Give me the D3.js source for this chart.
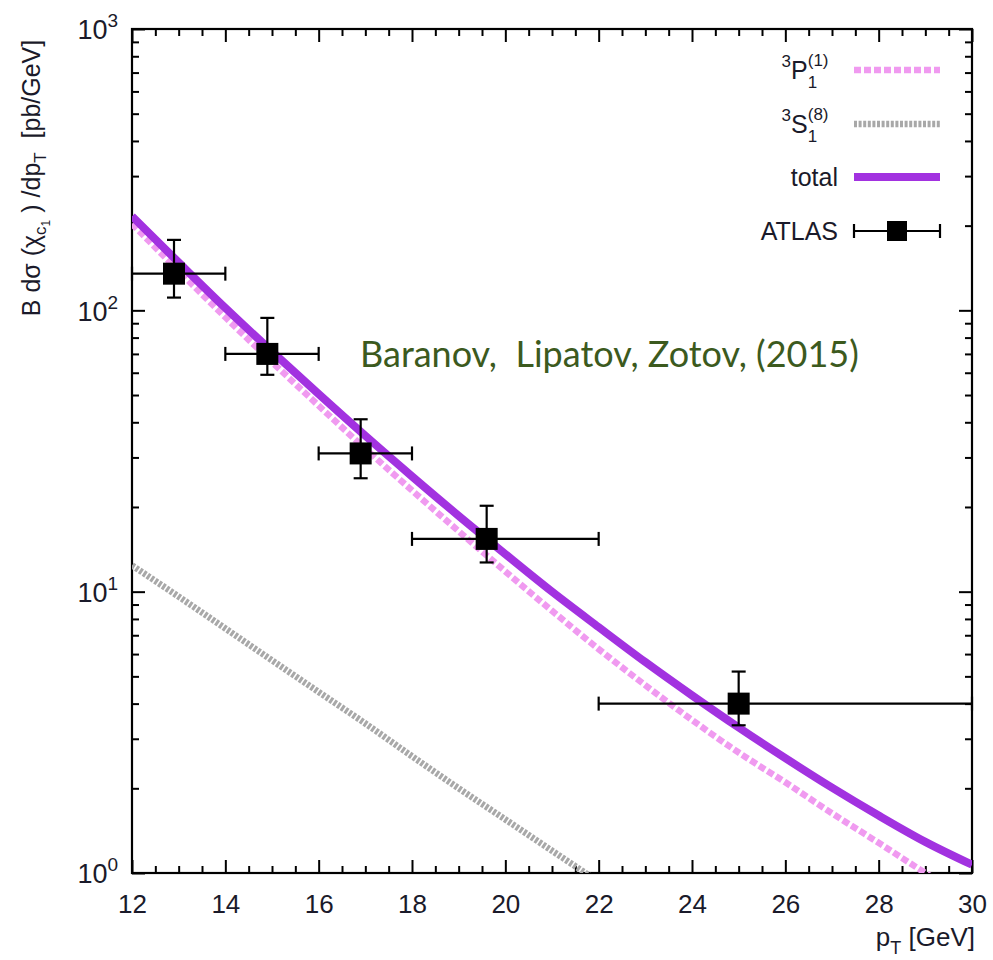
<!DOCTYPE html>
<html>
<head>
<meta charset="utf-8">
<script src="https://cdn.jsdelivr.net/npm/d3@7/dist/d3.min.js"></script>
<style>
  html, body { margin: 0; padding: 0; background: #fff; }
  svg { display: block; }
</style>
</head>
<body>
<svg id="chart" width="993" height="960"></svg>
<script>
// Transverse momentum grid for the theory curves [GeV]
const ptGrid = [12, 13, 14, 15, 16, 17, 18, 19, 20, 21, 22, 23, 24, 25, 26, 27, 28, 29, 30];
// Total prediction [pb/GeV]
const totalCurve = [216, 148, 102, 71.4, 50.4, 35.8, 25.7, 18.6, 13.6, 10.0, 7.48, 5.62, 4.28, 3.29, 2.56, 2.01, 1.60, 1.29, 1.07];
// Colour-singlet 3P1(1) contribution
const p1SingletCurve = [203, 138, 94.5, 65.5, 45.8, 32.2, 22.9, 16.4, 11.8, 8.55, 6.25, 4.65, 3.5, 2.68, 2.1, 1.63, 1.28, 1.0, 0.79];
// Colour-octet 3S1(8) contribution (pT grid truncated where it drops below the frame)
const s1OctetPt = [12, 13, 14, 15, 16, 17, 18, 19, 20, 21, 22, 23];
const s1OctetCurve = [12.4, 9.6, 7.4, 5.7, 4.4, 3.4, 2.6, 2.0, 1.55, 1.2, 0.93, 0.72];

// ATLAS measurement
const atlasPt = [12.9, 14.9, 16.9, 19.6, 25.0];
const atlasBinLo = [12, 14, 16, 18, 22];
const atlasBinHi = [14, 16, 18, 22, 30];
const atlasValue = [135, 70, 31, 15.4, 4.0];
const atlasUp = [178, 94, 41, 20.2, 5.2];
const atlasDown = [111, 59, 25.3, 12.7, 3.35];

// Axis ticks
const xMajorTicks = [12, 14, 16, 18, 20, 22, 24, 26, 28, 30];
const yMajorTicks = [1, 10, 100, 1000];

const svg = d3.select("#chart");
const frame = { left: 132, right: 972, top: 29, bottom: 873 };

const x = d3.scaleLinear().domain([12, 30]).range([frame.left, frame.right]);
const y = d3.scaleLog().domain([1, 1000]).range([frame.bottom, frame.top]);

const xMinor = d3.range(12, 30.01, 0.5).filter(v => Math.abs(v % 2) > 1e-6);
const yMinor = [];
[1, 10, 100].forEach(d => { for (let k = 2; k <= 9; k++) yMinor.push(d * k); });

const FONT = "'Liberation Sans', Arial, Helvetica, sans-serif";
const TXT = "#1a1a2a";

svg.append("defs").append("clipPath").attr("id", "plotClip")
  .append("rect")
  .attr("x", frame.left).attr("y", frame.top)
  .attr("width", frame.right - frame.left).attr("height", frame.bottom - frame.top);

// ---- Axes (ticks pointing inward on all four sides) ----
function styleAxis(g) {
  g.select(".domain").remove();
  g.selectAll(".tick line").attr("stroke", "#000").attr("stroke-width", 2);
}

svg.append("g").attr("transform", `translate(0,${frame.bottom})`)
  .call(d3.axisBottom(x).tickValues(xMajorTicks).tickSize(-13).tickPadding(22).tickFormat(d3.format("d")))
  .call(styleAxis)
  .call(g => g.selectAll("text").attr("font-family", FONT).attr("font-size", 26).attr("fill", TXT));
svg.append("g").attr("transform", `translate(0,${frame.bottom})`)
  .call(d3.axisBottom(x).tickValues(xMinor).tickSize(-7).tickFormat(""))
  .call(styleAxis);
svg.append("g").attr("transform", `translate(0,${frame.top})`)
  .call(d3.axisTop(x).tickValues(xMajorTicks).tickSize(-13).tickFormat(""))
  .call(styleAxis);
svg.append("g").attr("transform", `translate(0,${frame.top})`)
  .call(d3.axisTop(x).tickValues(xMinor).tickSize(-7).tickFormat(""))
  .call(styleAxis);

const yLeft = svg.append("g").attr("transform", `translate(${frame.left},0)`)
  .call(d3.axisLeft(y).tickValues(yMajorTicks).tickSize(-13).tickPadding(16).tickFormat(""))
  .call(styleAxis);
svg.append("g").attr("transform", `translate(${frame.left},0)`)
  .call(d3.axisLeft(y).tickValues(yMinor).tickSize(-7).tickFormat(""))
  .call(styleAxis);
svg.append("g").attr("transform", `translate(${frame.right},0)`)
  .call(d3.axisRight(y).tickValues(yMajorTicks).tickSize(-13).tickFormat(""))
  .call(styleAxis);
svg.append("g").attr("transform", `translate(${frame.right},0)`)
  .call(d3.axisRight(y).tickValues(yMinor).tickSize(-7).tickFormat(""))
  .call(styleAxis);

// Power-of-ten labels on the left axis
yLeft.selectAll(".tick").each(function(d) {
  const t = d3.select(this).select("text");
  t.text(null).attr("font-family", FONT).attr("font-size", 27).attr("fill", TXT)
    .attr("x", -14).attr("dy", "0.36em").attr("text-anchor", "end");
  t.append("tspan").text("10");
  t.append("tspan").attr("font-size", 19).attr("dy", -12).text(Math.round(Math.log10(d)));
});

// Frame
svg.append("rect")
  .attr("x", frame.left).attr("y", frame.top)
  .attr("width", frame.right - frame.left).attr("height", frame.bottom - frame.top)
  .attr("fill", "none").attr("stroke", "#000").attr("stroke-width", 2.2);

// ---- Theory curves ----
const line = d3.line().x(d => x(d[0])).y(d => y(d[1])).curve(d3.curveMonotoneX);
const curves = svg.append("g").attr("clip-path", "url(#plotClip)");

const styleOctet = { stroke: "#a8a8a8", width: 6.5, dash: "3,1.6" };
const styleSinglet = { stroke: "#f09af0", width: 6.5, dash: "7,3" };
const styleTotal = { stroke: "#a232e0", width: 8, dash: null };

function drawCurve(xs, ys, s) {
  curves.append("path")
    .datum(xs.map((v, i) => [v, ys[i]]))
    .attr("d", line)
    .attr("fill", "none")
    .attr("stroke", s.stroke)
    .attr("stroke-width", s.width)
    .attr("stroke-dasharray", s.dash);
}
drawCurve(s1OctetPt, s1OctetCurve, styleOctet);
drawCurve(ptGrid, p1SingletCurve, styleSinglet);
drawCurve(ptGrid, totalCurve, styleTotal);

// ---- ATLAS points with error bars ----
const pts = svg.append("g");
const CAP = 7, MSIZE = 22;
atlasPt.forEach((pt, i) => {
  const cx = x(pt), cy = y(atlasValue[i]);
  const g = pts.append("g").attr("stroke", "#000").attr("stroke-width", 2.2);
  const xl = x(atlasBinLo[i]), xr = x(atlasBinHi[i]);
  const yu = y(atlasUp[i]), yd = y(atlasDown[i]);
  g.append("line").attr("x1", xl).attr("x2", xr).attr("y1", cy).attr("y2", cy);
  g.append("line").attr("x1", xl).attr("x2", xl).attr("y1", cy - CAP).attr("y2", cy + CAP);
  g.append("line").attr("x1", xr).attr("x2", xr).attr("y1", cy - CAP).attr("y2", cy + CAP);
  g.append("line").attr("x1", cx).attr("x2", cx).attr("y1", yu).attr("y2", yd);
  g.append("line").attr("x1", cx - CAP).attr("x2", cx + CAP).attr("y1", yu).attr("y2", yu);
  g.append("line").attr("x1", cx - CAP).attr("x2", cx + CAP).attr("y1", yd).attr("y2", yd);
  pts.append("rect").attr("x", cx - MSIZE / 2).attr("y", cy - MSIZE / 2)
    .attr("width", MSIZE).attr("height", MSIZE).attr("fill", "#000");
});

// ---- Legend ----
const legend = svg.append("g");
const LX0 = 854, LX1 = 940, LTX = 838;
const legendRows = [70, 124, 177, 231];

function legendSample(yy, s) {
  legend.append("line").attr("x1", LX0).attr("x2", LX1).attr("y1", yy).attr("y2", yy)
    .attr("stroke", s.stroke).attr("stroke-width", s.width).attr("stroke-dasharray", s.dash);
}
// Spectroscopic label: ^3 X with stacked subscript/superscript
function spectroLabel(yy, letter, sub, sup) {
  const t = legend.append("text").attr("font-family", FONT).attr("fill", TXT).attr("y", yy + 9);
  t.append("tspan").attr("font-size", 17).attr("dy", -12).text("3");
  t.append("tspan").attr("font-size", 25).attr("dy", 12).text(letter);
  const w1 = t.node().getComputedTextLength();
  t.append("tspan").attr("font-size", 17).attr("dy", -13).text(sup);
  const w2 = t.node().getComputedTextLength();
  t.append("tspan").attr("font-size", 17).attr("x", w1).attr("dy", 22).text(sub);
  const width = Math.max(w2, t.node().getComputedTextLength());
  t.attr("transform", `translate(${LTX - width},0)`);
}
legendSample(legendRows[0], styleSinglet);
spectroLabel(legendRows[0], "P", "1", "(1)");
legendSample(legendRows[1], styleOctet);
spectroLabel(legendRows[1], "S", "1", "(8)");
legendSample(legendRows[2], styleTotal);
legend.append("text").attr("x", LTX).attr("y", legendRows[2] + 9).attr("text-anchor", "end")
  .attr("font-family", FONT).attr("font-size", 25).attr("fill", TXT).text("total");
// ATLAS sample: marker with horizontal error bar
const ay = legendRows[3];
legend.append("line").attr("x1", LX0).attr("x2", LX1).attr("y1", ay).attr("y2", ay)
  .attr("stroke", "#000").attr("stroke-width", 2.2);
[LX0, LX1].forEach(xx => legend.append("line").attr("x1", xx).attr("x2", xx)
  .attr("y1", ay - CAP).attr("y2", ay + CAP).attr("stroke", "#000").attr("stroke-width", 2.2));
legend.append("rect").attr("x", (LX0 + LX1) / 2 - 10).attr("y", ay - 10)
  .attr("width", 20).attr("height", 20).attr("fill", "#000");
legend.append("text").attr("x", LTX).attr("y", ay + 9).attr("text-anchor", "end")
  .attr("font-family", FONT).attr("font-size", 25).attr("fill", TXT).text("ATLAS");

// ---- Axis titles ----
const xt = svg.append("text").attr("x", 975).attr("y", 946).attr("text-anchor", "end")
  .attr("font-family", FONT).attr("font-size", 26).attr("fill", TXT);
xt.append("tspan").text("p");
xt.append("tspan").attr("font-size", 18).attr("dy", 8).text("T");
xt.append("tspan").attr("dy", -8).text(" [GeV]");

const yt = svg.append("text")
  .attr("transform", "translate(40,178) rotate(-90)")
  .attr("text-anchor", "middle")
  .attr("font-family", FONT).attr("font-size", 25).attr("fill", TXT)
  .attr("xml:space", "preserve");
yt.append("tspan").text("B d\u03c3 (\u03c7");
yt.append("tspan").attr("font-size", 17).attr("dy", 6).text("c");
yt.append("tspan").attr("font-size", 12).attr("dy", 4).text("1");
yt.append("tspan").attr("dy", -10).text(" ) /dp");
yt.append("tspan").attr("font-size", 17).attr("dy", 6).text("T");
yt.append("tspan").attr("dy", -6).text("  [pb/GeV]");

// ---- Annotation ----
svg.append("text").attr("x", 360).attr("y", 367)
  .attr("font-family", "Lato, 'Open Sans', sans-serif").attr("font-size", 36)
  .attr("fill", "#3c5a1e").attr("xml:space", "preserve")
  .text("Baranov,  Lipatov, Zotov, (2015)");
</script>
</body>
</html>
